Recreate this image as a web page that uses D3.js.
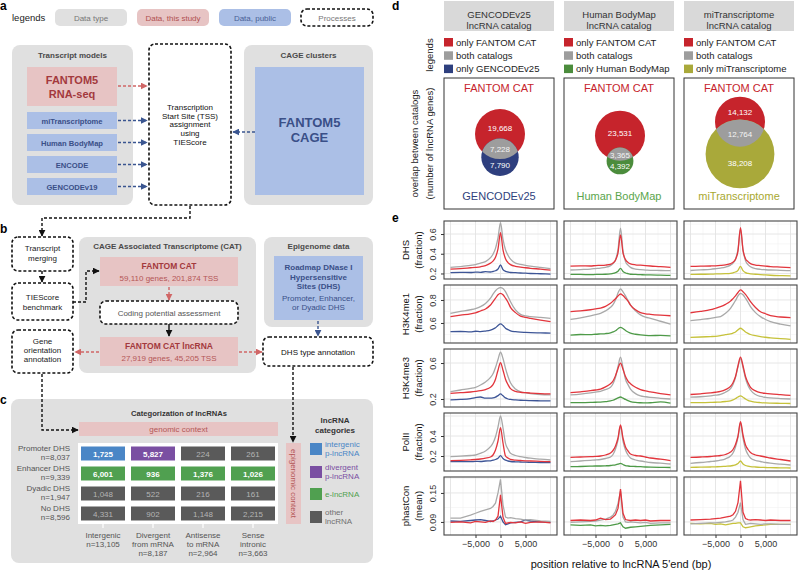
<!DOCTYPE html>
<html><head><meta charset="utf-8">
<script src="https://cdn.jsdelivr.net/npm/d3@7/dist/d3.min.js"></script>
<style>html,body{margin:0;padding:0;background:#fff;} svg{display:block;font-family:"Liberation Sans",Arial,Helvetica,sans-serif;}</style>
</head><body><svg id="fig" width="800" height="571"></svg>
<script>
// ================= DATA =================
const legendLabels = ["Data type","Data, this study","Data, public","Processes"];
const transcriptModels = ["miTranscriptome","Human BodyMap","ENCODE","GENCODEv19"];
const processLines = ["Transcription","Start Site (TSS)","assignment","using","TIEScore"];
const dhsRowNames = ["Promoter DHS","Enhancer DHS","Dyadic DHS","No DHS"];
const dhsRowCounts = ["n=8,037","n=9,339","n=1,947","n=8,596"];
const contextColNames = [["Intergenic"],["Divergent","from mRNA"],["Antisense","to mRNA"],["Sense","intronic"]];
const contextColCounts = ["n=13,105","n=8,187","n=2,964","n=3,663"];
const cellCounts = [[1725,5827,224,261],[6001,936,1376,1026],[1048,522,216,161],[4331,902,1148,2215]];
const cellCategory = [[0,1,3,3],[2,2,2,2],[3,3,3,3],[3,3,3,3]];
const categoryLabels = [["intergenic","p-lncRNA"],["divergent","p-lncRNA"],["e-lncRNA"],["other","lncRNA"]];

const catalogs = ["GENCODEv25","Human BodyMap","miTranscriptome"];
const onlyFantom = [19668,23531,14132];
const bothCatalogs = [7228,3365,12764];
const onlyOther = [7790,4392,38208];

const marks = ["DHS","H3K4me1","H3K4me3","PolII","phastCon"];
const markUnits = ["(fraction)","(fraction)","(fraction)","(fraction)","(mean)"];
const markTicks = [[0.2,0.4,0.6],[0.6,0.8],[0.2,0.6],[0.2,0.4],[0.09,0.15]];
const markDomains = [[0.144,0.732],[0.426,0.930],[0.111,0.756],[0.05,0.63],[0.063,0.183]];
const xTicks = [-5000,0,5000];
const positions = [-10000,-8000,-6000,-5000,-4000,-3000,-2000,-1500,-1000,-500,0,500,1000,1500,2000,3000,4000,5000,6000,8000,10000];

// each array: [GENCODEv25 panel, Human BodyMap panel, miTranscriptome panel]
const dhsOnlyFantom = [
 [0.245,0.250,0.258,0.262,0.268,0.280,0.305,0.325,0.365,0.450,0.613,0.440,0.350,0.310,0.290,0.272,0.265,0.258,0.252,0.245,0.235],
 [0.275,0.278,0.276,0.280,0.282,0.285,0.292,0.305,0.335,0.410,0.590,0.410,0.340,0.312,0.298,0.288,0.284,0.280,0.276,0.270,0.262],
 [0.272,0.274,0.276,0.278,0.282,0.288,0.300,0.315,0.345,0.430,0.665,0.440,0.350,0.320,0.300,0.285,0.280,0.275,0.270,0.265,0.260]];
const dhsBoth = [
 [0.262,0.270,0.283,0.290,0.305,0.320,0.360,0.395,0.455,0.560,0.715,0.545,0.440,0.385,0.345,0.305,0.292,0.283,0.275,0.262,0.250],
 [0.235,0.240,0.245,0.250,0.255,0.262,0.280,0.300,0.340,0.440,0.660,0.430,0.320,0.285,0.262,0.245,0.238,0.235,0.232,0.230,0.228],
 [0.230,0.236,0.242,0.248,0.255,0.265,0.285,0.305,0.345,0.445,0.650,0.440,0.330,0.290,0.268,0.250,0.242,0.238,0.235,0.232,0.228]];
const dhsOnlyOther = [
 [0.208,0.212,0.210,0.214,0.212,0.218,0.215,0.220,0.228,0.245,0.286,0.240,0.222,0.215,0.210,0.208,0.205,0.203,0.200,0.197,0.194],
 [0.190,0.190,0.188,0.190,0.191,0.192,0.196,0.200,0.208,0.222,0.252,0.220,0.205,0.198,0.192,0.190,0.188,0.186,0.185,0.183,0.180],
 [0.190,0.192,0.193,0.195,0.196,0.198,0.202,0.207,0.215,0.232,0.272,0.228,0.208,0.200,0.195,0.192,0.188,0.185,0.182,0.178,0.175]];

const me1OnlyFantom = [
 [0.655,0.668,0.680,0.688,0.704,0.722,0.756,0.785,0.815,0.845,0.858,0.845,0.815,0.780,0.736,0.690,0.660,0.648,0.640,0.625,0.611],
 [0.698,0.705,0.715,0.722,0.730,0.745,0.771,0.790,0.810,0.835,0.852,0.838,0.815,0.790,0.756,0.715,0.690,0.680,0.675,0.668,0.663],
 [0.689,0.700,0.715,0.728,0.742,0.762,0.790,0.812,0.835,0.865,0.887,0.872,0.848,0.818,0.785,0.735,0.698,0.680,0.663,0.652,0.646]];
const me1Both = [
 [0.684,0.700,0.715,0.725,0.742,0.770,0.815,0.850,0.880,0.900,0.907,0.900,0.872,0.830,0.785,0.713,0.675,0.662,0.655,0.648,0.640],
 [0.632,0.645,0.662,0.672,0.684,0.705,0.736,0.760,0.800,0.860,0.896,0.870,0.835,0.795,0.756,0.705,0.670,0.650,0.640,0.615,0.591],
 [0.620,0.630,0.640,0.648,0.655,0.685,0.727,0.760,0.795,0.835,0.858,0.845,0.815,0.780,0.742,0.690,0.655,0.630,0.612,0.590,0.574]];
const me1OnlyOther = [
 [0.524,0.526,0.522,0.528,0.525,0.530,0.538,0.546,0.558,0.578,0.592,0.578,0.555,0.542,0.532,0.524,0.520,0.518,0.516,0.514,0.512],
 [0.495,0.500,0.498,0.502,0.505,0.508,0.515,0.522,0.532,0.550,0.562,0.552,0.535,0.522,0.512,0.502,0.496,0.492,0.490,0.492,0.488],
 [0.475,0.478,0.482,0.484,0.490,0.498,0.505,0.512,0.522,0.540,0.554,0.540,0.522,0.510,0.500,0.490,0.482,0.476,0.470,0.464,0.458]];

const me3OnlyFantom = [
 [0.263,0.270,0.278,0.284,0.292,0.305,0.330,0.360,0.420,0.520,0.603,0.520,0.420,0.360,0.315,0.285,0.275,0.270,0.266,0.260,0.257],
 [0.270,0.280,0.292,0.300,0.310,0.335,0.370,0.400,0.460,0.540,0.600,0.530,0.450,0.400,0.370,0.330,0.305,0.290,0.280,0.260,0.245],
 [0.250,0.258,0.268,0.275,0.285,0.305,0.340,0.380,0.450,0.570,0.665,0.570,0.450,0.380,0.330,0.290,0.270,0.262,0.256,0.248,0.240]];
const me3Both = [
 [0.281,0.300,0.318,0.330,0.356,0.390,0.440,0.480,0.550,0.640,0.720,0.650,0.540,0.450,0.380,0.310,0.280,0.268,0.260,0.250,0.245],
 [0.245,0.255,0.268,0.276,0.285,0.305,0.330,0.370,0.440,0.560,0.665,0.550,0.420,0.360,0.310,0.260,0.235,0.225,0.218,0.208,0.200],
 [0.220,0.225,0.235,0.242,0.252,0.275,0.315,0.360,0.440,0.560,0.650,0.550,0.430,0.350,0.300,0.250,0.228,0.218,0.212,0.205,0.200]];
const me3OnlyOther = [
 [0.190,0.195,0.205,0.215,0.222,0.210,0.210,0.212,0.220,0.238,0.256,0.235,0.212,0.200,0.195,0.190,0.186,0.184,0.182,0.180,0.178],
 [0.160,0.160,0.162,0.164,0.165,0.170,0.178,0.186,0.198,0.212,0.222,0.210,0.195,0.182,0.172,0.162,0.158,0.156,0.158,0.168,0.155],
 [0.160,0.160,0.162,0.164,0.166,0.172,0.180,0.190,0.205,0.222,0.234,0.220,0.200,0.185,0.175,0.165,0.160,0.156,0.154,0.152,0.150]];

const polOnlyFantom = [
 [0.153,0.157,0.162,0.165,0.170,0.178,0.190,0.210,0.260,0.350,0.483,0.330,0.200,0.180,0.165,0.158,0.155,0.152,0.150,0.147,0.143],
 [0.187,0.190,0.193,0.196,0.200,0.210,0.230,0.255,0.300,0.380,0.510,0.380,0.290,0.250,0.220,0.205,0.200,0.190,0.180,0.168,0.153],
 [0.187,0.190,0.195,0.200,0.205,0.215,0.240,0.265,0.315,0.400,0.543,0.410,0.310,0.265,0.235,0.210,0.200,0.190,0.180,0.165,0.150]];
const polBoth = [
 [0.193,0.198,0.205,0.210,0.227,0.250,0.293,0.330,0.393,0.490,0.600,0.480,0.327,0.270,0.227,0.205,0.193,0.185,0.178,0.168,0.160],
 [0.143,0.150,0.157,0.160,0.165,0.175,0.190,0.215,0.270,0.360,0.500,0.350,0.260,0.210,0.180,0.160,0.150,0.142,0.135,0.128,0.120],
 [0.127,0.135,0.145,0.150,0.158,0.172,0.200,0.230,0.290,0.390,0.530,0.380,0.270,0.215,0.180,0.155,0.145,0.135,0.128,0.118,0.110]];
const polOnlyOther = [
 [0.143,0.145,0.143,0.146,0.145,0.150,0.152,0.158,0.165,0.178,0.203,0.175,0.158,0.150,0.145,0.142,0.140,0.138,0.137,0.135,0.133],
 [0.093,0.095,0.098,0.100,0.100,0.102,0.105,0.108,0.112,0.118,0.127,0.115,0.104,0.100,0.097,0.095,0.093,0.090,0.088,0.086,0.085],
 [0.087,0.088,0.090,0.092,0.094,0.097,0.100,0.105,0.112,0.125,0.150,0.120,0.105,0.098,0.094,0.090,0.087,0.085,0.083,0.082,0.080]];

const phcOnlyFantom = [
 [0.089,0.090,0.088,0.091,0.090,0.089,0.092,0.091,0.094,0.102,0.146,0.100,0.087,0.088,0.089,0.088,0.090,0.087,0.089,0.090,0.088],
 [0.093,0.094,0.093,0.094,0.098,0.095,0.096,0.100,0.105,0.118,0.158,0.108,0.095,0.094,0.093,0.094,0.093,0.094,0.092,0.093,0.093],
 [0.094,0.095,0.096,0.097,0.098,0.100,0.102,0.105,0.112,0.130,0.175,0.110,0.097,0.095,0.094,0.095,0.094,0.093,0.094,0.093,0.093]];
const phcBoth = [
 [0.098,0.098,0.104,0.108,0.112,0.115,0.118,0.122,0.129,0.150,0.178,0.125,0.100,0.098,0.099,0.097,0.096,0.094,0.095,0.092,0.091],
 [0.089,0.090,0.091,0.092,0.094,0.096,0.100,0.104,0.112,0.128,0.154,0.100,0.090,0.089,0.090,0.089,0.088,0.089,0.087,0.088,0.088],
 [0.086,0.087,0.088,0.088,0.089,0.090,0.092,0.094,0.100,0.110,0.130,0.095,0.085,0.086,0.087,0.086,0.085,0.086,0.086,0.085,0.085]];
const phcOnlyOther = [
 [0.092,0.091,0.093,0.094,0.095,0.093,0.091,0.092,0.094,0.096,0.102,0.090,0.084,0.086,0.088,0.089,0.090,0.094,0.092,0.090,0.089],
 [0.084,0.083,0.084,0.082,0.083,0.082,0.083,0.084,0.085,0.086,0.088,0.080,0.077,0.078,0.079,0.080,0.081,0.082,0.083,0.084,0.085],
 [0.087,0.086,0.087,0.085,0.086,0.084,0.086,0.087,0.087,0.088,0.088,0.080,0.078,0.079,0.080,0.082,0.083,0.084,0.085,0.085,0.085]];

const profiles = [
  [dhsOnlyFantom, dhsBoth, dhsOnlyOther],
  [me1OnlyFantom, me1Both, me1OnlyOther],
  [me3OnlyFantom, me3Both, me3OnlyOther],
  [polOnlyFantom, polBoth, polOnlyOther],
  [phcOnlyFantom, phcBoth, phcOnlyOther]];

// ================= STYLE =================
const COL = {
  box:"#e0e0e0", pink:"#e7c4c4", pinkText:"#a3393d", pinkText2:"#b45656",
  blue:"#abbfe6", blueText:"#3a4f88",
  red:"#c6242c", venGray:"#9d9d9d",
  other:["#2e3f7e","#4b8c3c","#a9a93a"], otherText:["#2f3f7c","#5aa54c","#a8a830"],
  lineRed:"#e2353c", lineGray:"#a9a9a9", lineOther:["#3d5596","#4e9a48","#c6c23b"],
  cat:["#4a86c6","#7a4fa2","#50a050","#5a5a5a"], catText:["#4a86c6","#7a4fa2","#50a050","#707070"]
};

const svg = d3.select("#fig");
const defs = svg.append("defs");
function marker(id,color){
  defs.append("marker").attr("id",id).attr("viewBox","0 0 10 10").attr("refX",9).attr("refY",5)
   .attr("markerWidth",7).attr("markerHeight",7).attr("markerUnits","userSpaceOnUse").attr("orient","auto")
   .append("path").attr("d","M0,0L10,5L0,10Z").attr("fill",color);
}
marker("mk","#111"); marker("mr","#d06666"); marker("mb","#3a5590");

function T(x,y,s,o={}){
  const t = svg.append("text").attr("x",x).attr("y",y).text(s)
    .attr("font-size",o.size||8).attr("fill",o.fill||"#222")
    .attr("text-anchor",o.anchor||"middle").attr("font-weight",o.weight||"normal");
  if(o.rot) t.attr("transform",`rotate(${o.rot},${x},${y})`);
  return t;
}
function R(x,y,w,h,fill,rx=0){
  return svg.append("rect").attr("x",x).attr("y",y).attr("width",w).attr("height",h).attr("rx",rx).attr("fill",fill);
}
function D(x,y,w,h){ // dashed process box
  return svg.append("rect").attr("x",x).attr("y",y).attr("width",w).attr("height",h).attr("rx",6)
   .attr("fill","#fff").attr("stroke","#111").attr("stroke-width",1.6).attr("stroke-dasharray","3,2");
}
function A(pts,color,mk,dashed=true){
  svg.append("path").attr("d",d3.line()(pts)).attr("fill","none").attr("stroke",color)
   .attr("stroke-width",1.4).attr("stroke-dasharray",dashed?"3,2":null).attr("marker-end",`url(#${mk})`);
}

// ================= PANEL A =================
T(0,10,"a",{size:12,weight:"bold",anchor:"start",fill:"#000"});
T(12,21,"legends",{size:9.5,anchor:"start",fill:"#222"});
const legFill = [COL.box, COL.pink, COL.blue, "#fff"];
const legText = ["#777", "#b05050", "#4a5f96", "#777"];
legendLabels.forEach((l,i)=>{
  const x = 55 + i*82;
  if(i<3) R(x,9,72,17,legFill[i],5); else D(x,9,72,17);
  T(x+36,20.5,l,{size:8,fill:legText[i]});
});

R(12,45,121,160,COL.box,8);
T(72.5,58,"Transcript models",{size:8,weight:"bold",fill:"#4a4a4a"});
R(27,67,90,39,COL.pink);
T(72,84,"FANTOM5",{size:11,weight:"bold",fill:COL.pinkText});
T(72,98,"RNA-seq",{size:11,weight:"bold",fill:COL.pinkText});
transcriptModels.forEach((m,i)=>{
  const y = 112 + i*22;
  R(27,y,90,17,COL.blue);
  T(72,y+11.5,m,{size:7.6,weight:"bold",fill:COL.blueText});
  A([[118,y+8.5],[147,y+8.5]],"#3a5590","mb");
});
A([[118,86],[147,86]],"#d06666","mr");

D(149,44,82,161);
processLines.forEach((l,i)=>T(190,110+i*8.7,l,{size:8,fill:"#111"}));

R(244,45,129,160,COL.box,8);
T(308.5,58,"CAGE clusters",{size:8,weight:"bold",fill:"#4a4a4a"});
R(255,67,109,128,COL.blue);
T(309.5,127,"FANTOM5",{size:13,weight:"bold",fill:COL.blueText});
T(309.5,142,"CAGE",{size:13,weight:"bold",fill:COL.blueText});
A([[255,132],[233,132]],"#3a5590","mb");

// ================= PANEL B =================
T(0,233,"b",{size:12,weight:"bold",anchor:"start",fill:"#000"});
A([[190,206],[190,218],[42,218],[42,236]],"#111","mk");
D(12,237,61,34);
T(42.5,251,"Transcript",{size:8}); T(42.5,261,"merging",{size:8});
A([[42,271],[42,282]],"#111","mk");
D(12,283,61,37);
T(42.5,300,"TIEScore",{size:8}); T(42.5,309.5,"benchmark",{size:8});
D(12,330,61,43);
T(42.5,344,"Gene",{size:8}); T(42.5,353,"orientation",{size:8}); T(42.5,362,"annotation",{size:8});

R(79,237,177,136,COL.box,8);
T(167.5,248.5,"CAGE Associated Transcriptome (CAT)",{size:8,weight:"bold",fill:"#4a4a4a"});
A([[73,302],[86,302],[86,271],[99,271]],"#111","mk");
R(100,257,138,29,COL.pink);
T(169,269,"FANTOM CAT",{size:8.5,weight:"bold",fill:COL.pinkText});
T(169,280.5,"59,110 genes, 201,874 TSS",{size:8,fill:COL.pinkText2});
A([[169,287],[169,300]],"#d06666","mr");
D(100,301,138,23);
T(169,315.5,"Coding potential assessment",{size:8,fill:"#555"});
A([[169,324],[169,336]],"#111","mk",false);
R(100,337,138,29,COL.pink);
T(169,349,"FANTOM CAT lncRNA",{size:8.5,weight:"bold",fill:COL.pinkText});
T(169,361,"27,919 genes, 45,205 TSS",{size:8,fill:COL.pinkText2});
A([[99,352],[75,352]],"#d06666","mr");
A([[239,352],[262,352]],"#d06666","mr");

R(264,237,109,90,COL.box,8);
T(318.5,248.5,"Epigenome data",{size:8,weight:"bold",fill:"#4a4a4a"});
R(274,256,89,64,COL.blue);
["Roadmap DNase I","Hypersensitive","Sites (DHS)"].forEach((l,i)=>T(318.5,270+i*9.5,l,{size:8,weight:"bold",fill:COL.blueText}));
["Promoter, Enhancer,","or Dyadic DHS"].forEach((l,i)=>T(318.5,301+i*9,l,{size:8,fill:COL.blueText}));
A([[318,321],[318,336]],"#3a5590","mb");
D(263,337,110,29);
T(318,355,"DHS type annotation",{size:8,fill:"#111"});

// ================= PANEL C =================
T(0,404,"c",{size:12,weight:"bold",anchor:"start",fill:"#000"});
R(11,399,362,164,COL.box,8);
A([[42,374],[42,430],[78,430]],"#111","mk");
A([[293,367],[293,442]],"#111","mk");
T(179,416,"Categorization of lncRNAs",{size:7.6,weight:"bold",fill:"#333"});
R(79,422,199,14,COL.pink);
T(178.5,432,"genomic context",{size:8,fill:COL.pinkText2});
R(286,443,15,81,COL.pink);
T(290.5,483.5,"epigenomic context",{size:8,fill:COL.pinkText2,rot:90});
R(78,443,200,81,"#fff");

const colBand = d3.scaleBand().domain(d3.range(4)).range([78,278]).paddingInner(0.12).paddingOuter(0.06);
const rowBand = d3.scaleBand().domain(d3.range(4)).range([443,524]).paddingInner(0.3).paddingOuter(0.175);
cellCounts.forEach((row,ri)=>row.forEach((v,ci)=>{
  const cat = cellCategory[ri][ci];
  R(colBand(ci),rowBand(ri),colBand.bandwidth(),rowBand.bandwidth(),COL.cat[cat]);
  T(colBand(ci)+colBand.bandwidth()/2,rowBand(ri)+rowBand.bandwidth()/2+3,d3.format(",")(v),
    {size:8,weight:cat<3?"bold":"normal",fill:cat<3?"#fff":"#b4b4b4"});
}));
dhsRowNames.forEach((n,ri)=>{
  const cy = rowBand(ri)+rowBand.bandwidth()/2;
  T(70,cy-2.5,n,{size:8,anchor:"end",fill:"#555"});
  T(70,cy+6.5,dhsRowCounts[ri],{size:8,anchor:"end",fill:"#555"});
});
contextColNames.forEach((lines,ci)=>{
  const cx = colBand(ci)+colBand.bandwidth()/2;
  svg.append("line").attr("x1",cx).attr("x2",cx).attr("y1",524).attr("y2",528).attr("stroke","#fff").attr("stroke-width",1.2);
  lines.concat([contextColCounts[ci]]).forEach((l,k)=>T(cx,538+k*9,l,{size:8,fill:"#555"}));
});
T(335,423,"lncRNA",{size:8,weight:"bold",fill:"#333"});
T(335,432.5,"categories",{size:8,weight:"bold",fill:"#333"});
const legY = [443,466,488,511];
categoryLabels.forEach((lines,i)=>{
  R(310,legY[i],12,12,COL.cat[i]);
  const y0 = lines.length===1 ? legY[i]+9 : legY[i]+4;
  lines.forEach((l,k)=>T(325,y0+k*9,l,{size:8,anchor:"start",fill:COL.catText[i]}));
});

// ================= PANEL D =================
T(392,10,"d",{size:12,weight:"bold",anchor:"start",fill:"#000"});
const dLeft = [444,564,684], dW = 110;
T(433,55,"legends",{size:9.5,rot:-90,fill:"#222"});
T(418,143.5,"overlap between catalogs",{size:9.5,rot:-90,fill:"#222"});
T(433,143.5,"(number of lncRNA genes)",{size:9.5,rot:-90,fill:"#222"});

const totF = onlyFantom.map((v,i)=>v+bothCatalogs[i]);
const totO = onlyOther.map((v,i)=>v+bothCatalogs[i]);
const rScale = d3.scaleSqrt().domain([0,d3.max(totF)]).range([0,25]);
function lens(r1,r2,d){
  if(d>=r1+r2) return 0;
  if(d<=Math.abs(r1-r2)) return Math.PI*Math.min(r1,r2)**2;
  const a = r1*r1*Math.acos((d*d+r1*r1-r2*r2)/(2*d*r1));
  const b = r2*r2*Math.acos((d*d+r2*r2-r1*r1)/(2*d*r2));
  const c = 0.5*Math.sqrt((-d+r1+r2)*(d+r1-r2)*(d-r1+r2)*(d+r1+r2));
  return a+b-c;
}
catalogs.forEach((cat,j)=>{
  const x0 = dLeft[j];
  R(x0,1,dW,30,"#d9d9d9");
  T(x0+dW/2,17.5,cat,{size:9.5,fill:"#333"});
  T(x0+dW/2,28.5,"lncRNA catalog",{size:9.5,fill:"#333"});
  const legC = [COL.red, COL.venGray, COL.other[j]];
  const legL = ["only FANTOM CAT","both catalogs","only "+cat];
  legL.forEach((l,i)=>{
    R(x0,38+i*13.3,9,8.5,legC[i]);
    T(x0+12,45.5+i*13.3,l,{size:9.5,anchor:"start",fill:"#222"});
  });
  svg.append("rect").attr("x",x0).attr("y",78).attr("width",dW).attr("height",131)
    .attr("fill","#fff").attr("stroke","#333").attr("stroke-width",1);
  T(x0+dW/2,92,"FANTOM CAT",{size:11,fill:COL.red});
  T(x0+dW/2,200,cat,{size:11,fill:COL.otherText[j]});
  // circles (area proportional to gene counts)
  const r1 = rScale(totF[j]), r2 = rScale(totO[j]);
  const target = Math.PI*rScale(bothCatalogs[j])**2;
  let lo = Math.abs(r1-r2), hi = r1+r2;
  for(let k=0;k<60;k++){ const m=(lo+hi)/2; if(lens(r1,r2,m)>target) lo=m; else hi=m; }
  const dist = (lo+hi)/2;
  const top = -r1, bottom = Math.max(r1, dist+r2);
  const cy1 = 142.5 - (top+bottom)/2, cy2 = cy1 + dist, cx = x0 + dW/2 + 1;
  svg.append("circle").attr("cx",cx).attr("cy",cy1).attr("r",r1).attr("fill",COL.red);
  svg.append("circle").attr("cx",cx).attr("cy",cy2).attr("r",r2).attr("fill",COL.other[j]);
  const cid = "clip"+j;
  defs.append("clipPath").attr("id",cid).append("circle").attr("cx",cx).attr("cy",cy1).attr("r",r1);
  svg.append("circle").attr("cx",cx).attr("cy",cy2).attr("r",r2).attr("fill",COL.venGray).attr("clip-path",`url(#${cid})`);
  const redTop = cy1-r1, redBot = cy1+r1, oTop = cy2-r2, oBot = cy2+r2;
  T(cx,(redTop+oTop)/2+0.1*r1+4.5,d3.format(",")(onlyFantom[j]),{size:8,fill:"#fff"});
  T(cx,(oTop+redBot)/2+3.5,d3.format(",")(bothCatalogs[j]),{size:8,fill:"#f4f4f4"});
  T(cx,(redBot+oBot)/2-0.15*r2+3.5,d3.format(",")(onlyOther[j]),{size:8,fill:"#fff"});
});

// ================= PANEL E =================
T(392,222,"e",{size:12,weight:"bold",anchor:"start",fill:"#000"});
const eLeft = [444,564,684], eW = 113, eTop = [221,285,349,413,477], eH = 58;
marks.forEach((m,i)=>{
  const y = d3.scaleLinear().domain(markDomains[i]).range([eTop[i]+eH, eTop[i]]);
  const tk = markTicks[i], step = tk[1]-tk[0];
  const yMinor = [];
  for(let v=tk[0]-step/2; v<markDomains[i][1]; v+=step) if(v>markDomains[i][0]) yMinor.push(v);
  const yMajor = [];
  for(let v=tk[0]-step; v<markDomains[i][1]+1e-9; v+=step) if(v>markDomains[i][0]) yMajor.push(v);
  for(let j=0;j<3;j++){
    const x = d3.scaleLinear().domain([-11300,11300]).range([eLeft[j], eLeft[j]+eW]);
    const g = svg.append("g");
    g.append("rect").attr("x",eLeft[j]).attr("y",eTop[i]).attr("width",eW).attr("height",eH).attr("fill","#fff");
    [-7500,-2500,2500,7500].forEach(v=>g.append("line").attr("x1",x(v)).attr("x2",x(v)).attr("y1",eTop[i]).attr("y2",eTop[i]+eH).attr("stroke","#f1f1f1").attr("stroke-width",0.6));
    yMinor.forEach(v=>g.append("line").attr("x1",eLeft[j]).attr("x2",eLeft[j]+eW).attr("y1",y(v)).attr("y2",y(v)).attr("stroke","#f1f1f1").attr("stroke-width",0.6));
    [-10000,-5000,0,5000,10000].forEach(v=>g.append("line").attr("x1",x(v)).attr("x2",x(v)).attr("y1",eTop[i]).attr("y2",eTop[i]+eH).attr("stroke","#e3e3e3").attr("stroke-width",0.9));
    yMajor.forEach(v=>g.append("line").attr("x1",eLeft[j]).attr("x2",eLeft[j]+eW).attr("y1",y(v)).attr("y2",y(v)).attr("stroke","#e3e3e3").attr("stroke-width",0.9));
    const cid = `ec${i}_${j}`;
    defs.append("clipPath").attr("id",cid).append("rect").attr("x",eLeft[j]).attr("y",eTop[i]).attr("width",eW).attr("height",eH);
    const line = d3.line().x((d,k)=>x(positions[k])).y(d=>y(d)).curve(i===4?d3.curveLinear:d3.curveMonotoneX);
    const colors = [COL.lineRed, COL.lineGray, COL.lineOther[j]];
    [2,1,0].forEach(s=>{
      g.append("path").attr("d",line(profiles[i][s][j])).attr("fill","none").attr("stroke",colors[s])
        .attr("stroke-width",1.3).attr("clip-path",`url(#${cid})`);
    });
    g.append("rect").attr("x",eLeft[j]).attr("y",eTop[i]).attr("width",eW).attr("height",eH)
      .attr("fill","none").attr("stroke","#444").attr("stroke-width",1.1);
    if(i===marks.length-1){
      const ax = svg.append("g").attr("transform",`translate(0,${eTop[i]+eH})`)
        .call(d3.axisBottom(x).tickValues(xTicks).tickSize(3).tickPadding(3).tickFormat(d3.format(",")));
      ax.select(".domain").remove();
      ax.selectAll("line").attr("stroke","#333");
      ax.selectAll("text").attr("font-size",9).attr("fill","#333").attr("font-family",null);
    }
  }
  const ay = svg.append("g").attr("transform",`translate(${eLeft[0]},0)`)
    .call(d3.axisLeft(y).tickValues(tk).tickSize(3).tickFormat(d3.format(i===4?".2f":".1f")));
  ay.select(".domain").remove();
  ay.selectAll("line").attr("stroke","#333");
  ay.selectAll("text").attr("font-size",9).attr("fill","#333").attr("font-family",null)
    .attr("x",0).attr("y",-8).attr("dy",0).attr("text-anchor","middle").attr("transform","rotate(-90)");
  const cy = eTop[i]+eH/2;
  T(409,cy,m,{size:9.5,rot:-90,fill:"#111"});
  T(422,cy,markUnits[i],{size:9.5,rot:-90,fill:"#111"});
});
T(621,568,"position relative to lncRNA 5'end (bp)",{size:11,fill:"#111"});
</script></body></html>
